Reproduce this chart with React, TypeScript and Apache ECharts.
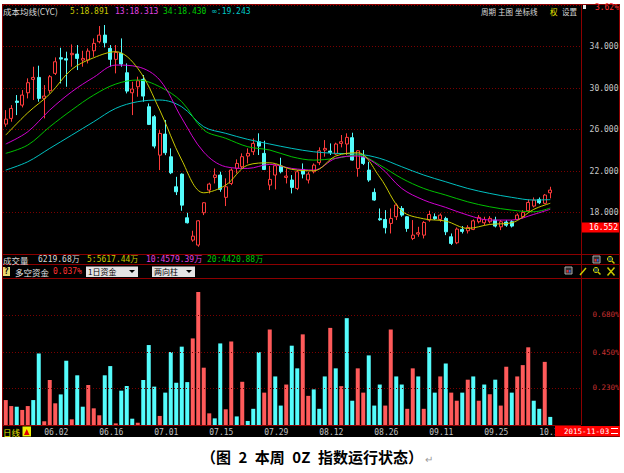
import React, { useEffect, useRef } from 'react';
import * as echarts from 'echarts';

// Trading days shown on the daily chart
const dates = [
  '05.22', '05.25', '05.26', '05.27', '05.28', '05.29',
  '06.01', '06.02', '06.03', '06.04', '06.05', '06.08', '06.09', '06.10', '06.11', '06.12', '06.15', '06.16', '06.17', '06.18', '06.19', '06.23', '06.24', '06.25', '06.26', '06.29', '06.30',
  '07.01', '07.02', '07.03', '07.06', '07.07', '07.08', '07.09', '07.10', '07.13', '07.14', '07.15', '07.16', '07.17', '07.20', '07.21', '07.22', '07.23', '07.24', '07.27', '07.28', '07.29', '07.30', '07.31',
  '08.03', '08.04', '08.05', '08.06', '08.07', '08.10', '08.11', '08.12', '08.13', '08.14', '08.17', '08.18', '08.19', '08.20', '08.21', '08.24', '08.25', '08.26', '08.27', '08.28', '08.31',
  '09.01', '09.02', '09.07', '09.08', '09.09', '09.10', '09.11', '09.14', '09.15', '09.16', '09.17', '09.18', '09.21', '09.22', '09.23', '09.24', '09.25', '09.28', '09.29', '09.30',
  '10.08', '10.09', '10.12', '10.13', '10.14', '10.15', '10.16', '10.19', '10.20',
];
const labelDates = ['06.02', '06.16', '07.01', '07.15', '07.29', '08.12', '08.26', '09.11', '09.25', '10.16'];

// [open, close, low, high]
const candles = [
  [26.52, 27.0, 26.26, 27.87], [27.07, 28.03, 26.75, 28.35], [28.74, 28.61, 27.39, 29.32], [28.35, 29.32, 28.13, 29.8],
  [29.54, 30.51, 29.0, 30.93], [30.83, 31.02, 28.84, 32.05], [31.02, 29.0, 28.68, 32.15], [29.0, 29.22, 27.07, 30.28],
  [29.74, 31.09, 29.48, 31.25], [31.41, 32.53, 31.25, 32.95], [32.92, 32.79, 30.44, 33.88], [32.82, 32.69, 30.12, 33.5],
  [33.21, 33.34, 32.05, 34.2], [33.27, 32.85, 31.73, 34.14], [32.69, 32.85, 32.05, 33.59], [32.69, 33.56, 32.37, 33.82],
  [33.59, 34.3, 33.01, 34.78], [34.46, 35.1, 34.3, 35.97], [35.1, 34.36, 33.91, 36.07], [33.82, 32.76, 32.05, 34.14],
  [32.76, 33.43, 31.41, 34.14], [33.34, 32.31, 32.05, 34.78], [31.47, 29.7, 29.48, 32.37], [29.54, 29.9, 27.39, 30.6],
  [30.12, 30.7, 29.16, 31.09], [30.83, 29.22, 28.68, 31.25], [28.19, 26.49, 26.43, 28.51], [27.23, 24.4, 24.18, 27.39],
  [23.53, 25.62, 22.09, 25.94], [25.56, 23.76, 23.53, 26.91], [23.37, 21.83, 21.7, 24.18], [20.48, 20.0, 19.68, 21.44],
  [21.7, 18.71, 18.17, 21.77], [17.49, 17.01, 16.94, 17.97], [15.34, 15.72, 15.18, 16.24], [14.86, 17.2, 14.7, 17.27],
  [17.98, 18.94, 17.75, 19.0], [20.16, 20.74, 19.84, 20.87], [21.38, 21.61, 20.8, 22.25], [21.61, 20.23, 20.0, 21.93],
  [19.46, 20.48, 18.62, 21.29], [20.8, 22.09, 20.64, 22.25], [22.25, 22.73, 21.77, 23.12], [22.41, 23.38, 22.25, 23.7],
  [23.44, 23.7, 22.73, 24.18], [23.86, 24.66, 23.54, 25.14], [24.82, 24.4, 23.54, 25.63], [23.7, 22.15, 22.09, 24.92],
  [20.64, 21.19, 20.16, 22.48], [21.61, 22.51, 20.23, 22.67], [22.48, 21.93, 21.77, 23.28], [21.38, 21.51, 20.8, 22.25],
  [21.13, 20.42, 19.84, 21.61], [20.32, 21.93, 20.16, 22.09], [22.15, 21.7, 21.29, 22.73], [21.13, 21.7, 20.8, 21.93],
  [21.93, 22.57, 21.77, 22.73], [22.8, 23.95, 22.57, 24.28], [24.02, 24.18, 23.38, 24.98], [23.92, 23.79, 23.54, 24.66],
  [23.63, 24.6, 23.54, 24.73], [24.66, 24.82, 24.28, 25.47], [24.6, 25.24, 23.54, 25.63], [25.21, 23.05, 22.99, 25.69],
  [22.25, 23.95, 21.45, 24.02], [23.31, 22.73, 22.57, 24.02], [22.09, 21.13, 20.96, 22.89], [19.94, 19.2, 19.13, 20.32],
  [17.4, 17.3, 17.2, 18.39], [17.33, 16.53, 15.98, 18.23], [16.95, 17.43, 15.98, 18.39], [17.59, 18.72, 17.27, 18.88],
  [18.39, 17.75, 17.59, 18.62], [17.59, 16.46, 16.14, 17.65], [15.5, 15.82, 15.34, 17.27], [15.92, 16.05, 15.66, 16.62],
  [15.82, 17.04, 15.5, 17.17], [17.27, 17.81, 17.11, 18.17], [17.59, 17.4, 17.27, 17.91], [17.33, 17.75, 17.11, 17.91],
  [17.43, 16.14, 15.82, 17.59], [15.66, 15.02, 14.86, 15.98], [15.08, 16.4, 14.95, 16.56], [16.37, 16.18, 15.98, 16.69],
  [16.24, 16.56, 15.98, 16.78], [16.37, 17.2, 16.3, 17.33], [17.11, 17.53, 16.95, 17.75], [17.01, 17.33, 16.78, 17.59],
  [17.11, 17.43, 16.95, 17.65], [17.27, 16.69, 16.56, 17.59], [16.62, 17.11, 16.3, 17.27], [17.08, 16.78, 16.62, 17.27],
  [17.11, 16.69, 16.56, 17.27], [17.33, 17.75, 17.27, 17.91], [17.59, 18.01, 17.43, 18.23], [18.17, 18.97, 18.07, 19.26],
  [18.62, 19.2, 18.49, 19.45], [19.26, 18.94, 18.81, 19.45], [18.88, 19.68, 18.81, 19.78], [19.9, 20.16, 19.36, 20.48],
];

// Cost moving averages (CYC), sampled at these day indices
const cycIdx = [0, 4, 8, 12, 16, 20, 24, 28, 32, 36, 40, 44, 48, 52, 56, 60, 64, 68, 72, 76, 80, 84, 88, 92, 96, 99];
const cyc5 = [25.46, 27.61, 29.42, 31.8, 32.92, 33.5, 31.9, 27.87, 23.05, 19.9, 20.64, 22.57, 22.79, 22.16, 22.02, 23.44, 23.76, 21.41, 18.16, 17.39, 17.17, 16.47, 16.85, 17.01, 18.3, 18.89];
const cyc13 = [24.6, 25.78, 27.87, 29.64, 31.03, 32.21, 32.05, 30.77, 27.1, 23.82, 22.41, 22.25, 22.64, 22.25, 22.09, 23.22, 23.44, 22.41, 20.32, 19.2, 18.49, 17.75, 17.27, 17.27, 17.82, 18.31];
const cyc34 = [23.7, 24.5, 26.26, 27.87, 29.32, 30.38, 30.77, 30.12, 28.68, 25.95, 25.15, 24.34, 24.02, 23.37, 23.05, 23.22, 23.54, 22.57, 21.29, 20.32, 19.68, 19.03, 18.55, 18.23, 18.07, 18.43];
const cycInf = [22.09, 22.89, 24.18, 25.46, 26.75, 28.04, 28.68, 28.84, 28.19, 26.26, 25.63, 25.05, 24.6, 24.18, 23.85, 23.7, 23.63, 23.22, 22.41, 21.61, 20.96, 20.32, 19.84, 19.46, 19.2, 19.24];

// 多空资金 (%), with direction: 1 = inflow (red), -1 = outflow (cyan)
const fundFlow = [
  0.154, 0.117, 0.113, 0.093, 0.117, 0.154, 0.442, 0.023, 0.278, 0.134,
  0.189, 0.397, 0.035, 0.307, 0.113, 0.247, 0.103, 0.06, 0.307, 0.364,
  0.01, 0.212, 0.241, 0.039, 0.014, 0.278, 0.494, 0.237, 0.056, 0.2,
  0.451, 0.261, 0.484, 0.265, 0.535, 0.821, 0.354, 0.072, 0.041, 0.504,
  0.097, 0.516, 0.053, 0.267, 0.025, 0.1, 0.45, 0.2, 0.59, 0.3,
  0.12, 0.25, 0.49, 0.35, 0.56, 0.18, 0.22, 0.1, 0.3, 0.6,
  0.35, 0.24, 0.66, 0.15, 0.35, 0.2, 0.43, 0.12, 0.25, 0.12,
  0.59, 0.3, 0.25, 0.1, 0.35, 0.3, 0.1, 0.48, 0.2, 0.3,
  0.38, 0.2, 0.15, 0.2, 0.28, 0.3, 0.15, 0.25, 0.19, 0.28,
  0.12, 0.36, 0.2, 0.3, 0.37, 0.48, 0.15, 0.1, 0.39, 0.05,
];
const fundDir = [
  1, 1, -1, 1, 1, -1, -1, 1, 1, 1,
  -1, -1, 1, -1, -1, 1, 1, 1, -1, -1,
  1, -1, -1, -1, 1, -1, -1, -1, 1, -1,
  -1, -1, -1, -1, 1, 1, 1, 1, -1, -1,
  1, 1, -1, 1, -1, -1, -1, 1, 1, -1,
  -1, 1, -1, -1, 1, 1, -1, -1, -1, 1,
  -1, 1, -1, -1, 1, 1, -1, -1, -1, 1,
  1, -1, -1, 1, 1, -1, 1, -1, -1, 1,
  -1, 1, 1, -1, 1, -1, 1, -1, 1, -1,
  1, 1, -1, 1, 1, 1, -1, -1, 1, -1,
];
const fundLevels = [0.228, 0.452, 0.68];

const lastPrice = 16.552;
const PAD_DAYS = 5;

const RED = '#ff3c3c';
const BAR_RED = '#ff5a5a';
const CYAN = '#54fcfc';
const FRAME = '#8c0000';
const GRIDLINE = '#7a0000';
const CJK = '"Noto Sans CJK SC", sans-serif';
const MONO = '"DejaVu Sans Mono", "Noto Sans CJK SC", monospace';

const categories = [...dates, ...Array.from({ length: PAD_DAYS }, (_, k) => `pad${k}`)];
const toLine = (vals: number[]) => cycIdx.map((idx, k) => [idx, vals[k]]);

function txt(x: number, y: number, text: string, fill: string, size = 9, family = CJK, align = 'left', weight = 'normal', z = 60) {
  return {
    type: 'text', x, y, z, silent: true,
    style: { text, fill, fontSize: size, fontFamily: family, fontWeight: weight, align, verticalAlign: 'middle' },
  };
}
function ln(x1: number, y1: number, x2: number, y2: number, stroke = FRAME, z = 50, lineWidth = 1) {
  return { type: 'line', z, silent: true, shape: { x1, y1, x2, y2 }, style: { stroke, lineWidth } };
}
function box(x: number, y: number, width: number, height: number, fill: string, z = 60, stroke?: string) {
  return { type: 'rect', z, silent: true, shape: { x, y, width, height }, style: { fill, stroke: stroke || null, lineWidth: 1 } };
}
function windowIcon(x: number, y: number) {
  return [box(x, y, 7, 7, '#303030', 60, '#a8a8a8'), box(x + 1.5, y + 3, 2, 2.5, '#e03030', 61), box(x + 4, y + 3, 1.5, 2.5, '#3060e0', 61)];
}
function lensIcon(x: number, y: number) {
  return [
    { type: 'circle', z: 60, silent: true, shape: { cx: x + 3, cy: y + 3, r: 2.6 }, style: { fill: '#204040', stroke: '#c8c800', lineWidth: 1 } },
    ln(x + 5, y + 5, x + 7.5, y + 7.5, '#c8c800', 60, 1.5),
  ];
}

function buildOption() {
  return {
    animation: false,
    backgroundColor: 'transparent',
    grid: [
      { left: 3, top: 5, width: 577.5, height: 249, outerBoundsMode: 'none' },
      { left: 3, top: 279, width: 577.5, height: 146, outerBoundsMode: 'none' },
    ],
    xAxis: [
      { type: 'category', gridIndex: 0, data: categories, boundaryGap: true, show: false },
      {
        type: 'category', gridIndex: 1, data: categories, boundaryGap: true,
        axisLine: { show: true, lineStyle: { color: FRAME } },
        axisTick: { show: false },
        splitLine: { show: false },
        axisLabel: {
          interval: (_i: number, v: string) => labelDates.includes(v),
          align: 'left', margin: 3, color: '#c0c0c0', fontSize: 8, fontFamily: MONO,
        },
      },
    ],
    yAxis: [
      {
        type: 'value', gridIndex: 0, position: 'right', min: 14, max: 38, interval: 4,
        axisLine: { show: false }, axisTick: { show: false },
        axisLabel: {
          formatter: (v: number) => (v === 14 || v === 38 ? '' : v.toFixed(3)),
          color: '#c8c8c8', fontSize: 8, fontFamily: MONO, align: 'right', margin: 38,
        },
        splitLine: { show: true, lineStyle: { color: GRIDLINE, type: [1, 2], width: 1 } },
      },
      { type: 'value', gridIndex: 1, min: 0, max: 0.902, show: false },
    ],
    series: [
      {
        type: 'candlestick', xAxisIndex: 0, yAxisIndex: 0, data: candles, barWidth: 3.6,
        itemStyle: { color: '#000000', color0: CYAN, borderColor: RED, borderColor0: CYAN, borderColorDoji: RED, borderWidth: 1 },
      },
      ...[
        { vals: cycInf, color: '#00c0c0' },
        { vals: cyc34, color: '#00c000' },
        { vals: cyc13, color: '#d000d0' },
        { vals: cyc5, color: '#c8c800' },
      ].map((l) => ({
        type: 'line', xAxisIndex: 0, yAxisIndex: 0, data: toLine(l.vals), smooth: 0.35,
        symbol: 'none', z: 3, lineStyle: { color: l.color, width: 1 },
      })),
      {
        type: 'bar', xAxisIndex: 1, yAxisIndex: 1, barWidth: 4,
        data: fundFlow.map((v, k) => ({ value: v, itemStyle: { color: fundDir[k] > 0 ? BAR_RED : CYAN } })),
        markLine: {
          silent: true, symbol: 'none', animation: false,
          lineStyle: { color: GRIDLINE, type: [1, 2], width: 1 },
          label: {
            position: 'end', distance: 12, color: '#c83030', fontSize: 7.5, fontFamily: MONO,
            formatter: (p: any) => `${Number(p.value).toFixed(3)}%`,
          },
          data: fundLevels.map((v) => ({ yAxis: v })),
        },
      },
    ],
  };
}

function buildGraphics(priceY: number) {
  const els: any[] = [
    // panel frame
    ln(2, 4.5, 620, 4.5), ln(2, 254.5, 620, 254.5), ln(2, 264.5, 620, 264.5), ln(2, 278.5, 620, 278.5),
    ln(2.5, 4, 2.5, 437), ln(581.5, 4, 581.5, 425), ln(619.5, 4, 619.5, 437),

    // main chart header
    txt(3, 11, '成本均线(CYC)', '#d8d8d8', 8.5),
    txt(70, 11, '5:18.891', '#c8c800', 8, MONO),
    txt(115, 11, '13:18.313', '#e040e0', 8, MONO),
    txt(163, 11, '34:18.430', '#00c800', 8, MONO),
    txt(212, 11, '∞:19.243', '#00c8c8', 8, MONO),
    txt(481, 11, '周期', '#d8d8d8', 7.5),
    txt(498, 11, '主图', '#d8d8d8', 7.5),
    txt(515, 11, '坐标线', '#d8d8d8', 7.5),
    txt(550, 11, '权', '#e8e800', 7.5),
    txt(562, 11, '设置', '#d8d8d8', 7.5),
    box(583, 5, 3, 4, '#e8e8e8'),
    txt(619, 7.5, '3.62%', '#ff3030', 8, MONO, 'right'),

    // volume header
    txt(3, 259.5, '成交量', '#d8d8d8', 8.5),
    txt(38, 259.5, '6219.68万', '#d8d8d8', 8, MONO),
    txt(87, 259.5, '5:5617.44万', '#c8c800', 8, MONO),
    txt(146, 259.5, '10:4579.39万', '#e040e0', 8, MONO),
    txt(207, 259.5, '20:4420.88万', '#00c800', 8, MONO),
    ...windowIcon(593, 256), ...lensIcon(607, 256),

    // fund-flow header
    box(3, 267, 7, 9, '#e8d870'),
    txt(6.5, 271.5, '?', '#000000', 8, MONO, 'center', 'bold', 61),
    txt(15, 271.5, '多空资金', '#e8e8e8', 8.5),
    txt(53, 271.5, '0.037%', '#ff3030', 8, MONO),
    box(86, 266.5, 52, 10.5, '#e4e4e4'),
    txt(88, 271.7, '1日资金', '#000000', 8, CJK, 'left', 'normal', 61),
    { type: 'polygon', z: 61, silent: true, shape: { points: [[129, 270], [135, 270], [132, 273]] }, style: { fill: '#000' } },
    box(152, 266.5, 43, 10.5, '#e4e4e4'),
    txt(154, 271.7, '两向柱', '#000000', 8, CJK, 'left', 'normal', 61),
    { type: 'polygon', z: 61, silent: true, shape: { points: [[186, 270], [192, 270], [189, 273]] }, style: { fill: '#000' } },
    ...windowIcon(565, 267),
    ln(580, 275, 586, 268, '#c8c800', 60, 1.5),
    ...lensIcon(593, 267),
    ln(607.5, 267.5, 614.5, 275.5, '#c8c800', 60, 1.5), ln(614.5, 267.5, 607.5, 275.5, '#c8c800', 60, 1.5),

    // date row
    txt(3, 432, '日线', '#e8e800', 8.5),
    box(22.5, 426.5, 8.5, 10, '#f0f000'),
    { type: 'polygon', z: 61, silent: true, shape: { points: [[24, 435], [29.5, 435], [26.75, 429]] }, style: { fill: '#e00000' } },
    box(555, 426, 65, 10.5, '#ff0000', 70),
    txt(564, 431.3, '2015-11-03', '#ffffff', 7.5, MONO, 'left', 'normal', 71),
    ln(611, 428.5, 618, 428.5, '#ffffff', 71), ln(611, 433.5, 618, 433.5, '#ffffff', 71),

    // last price tag on the price axis
    box(582, priceY - 5, 37, 10, '#ff0000', 70),
    txt(618, priceY + 0.3, lastPrice.toFixed(3), '#ffffff', 8, MONO, 'right', 'normal', 71),

    // caption
    txt(201, 456, '（图\u20022\u2002本周\u20020Z\u2002指数运行状态）', '#000000', 15, CJK, 'left', 'bold'),
    txt(425, 458, '↵', '#9a9a9a', 10, CJK),
  ];
  return els;
}

export default function App() {
  const ref = useRef<HTMLDivElement>(null);
  useEffect(() => {
    if (!ref.current) return;
    const chart = echarts.init(ref.current, null, { renderer: 'svg' });
    chart.setOption(buildOption() as any);
    const priceY = chart.convertToPixel({ yAxisIndex: 0 }, lastPrice) as unknown as number;
    chart.setOption({ graphic: { elements: buildGraphics(priceY) } } as any);
    return () => chart.dispose();
  }, []);
  return (
    <div style={{ position: 'fixed', left: 0, top: 0, width: 624, height: 473, background: '#ffffff' }}>
      <div style={{ position: 'absolute', left: 2, top: 4, width: 618, height: 433, background: '#000000' }} />
      <div ref={ref} style={{ position: 'absolute', left: 0, top: 0, width: 624, height: 473 }} />
    </div>
  );
}
